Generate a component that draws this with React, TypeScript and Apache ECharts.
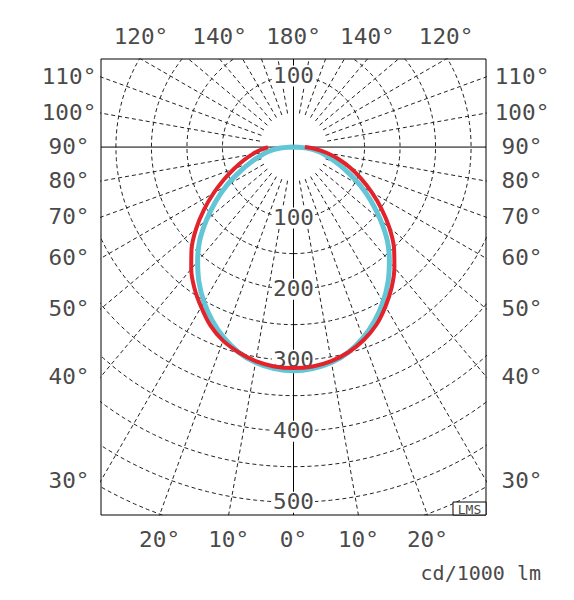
import React, { useEffect, useRef } from "react";
import * as echarts from "echarts";

// Gamma angles (degrees from nadir) at which intensities were read
const angles = [0, 5, 10, 15, 20, 25, 30, 35, 40, 45, 50, 55, 60, 65, 70, 75, 80, 85, 90];
// C0 plane (right half, red)
const c0 = [311, 310, 306, 299, 289, 276, 259, 241, 221, 200, 176, 151, 127, 105, 85, 66, 48, 31, 16];
// C180 plane (left half, red)
const c180 = [311, 310, 306, 299, 290, 277, 260, 243, 224, 203, 179, 154, 130, 108, 89, 73, 59, 47, 36];
// C90 / C270 planes (cyan)
const c90 = [315, 313, 308, 299, 286, 270, 252, 232, 210, 187, 160, 134, 109, 85, 65, 49, 36, 22, 0];
const c270 = [315, 313, 308, 299, 286, 270, 252, 232, 210, 187, 160, 134, 109, 85, 65, 49, 36, 22, 0];

const ringValues = [100, 150, 200, 250, 300, 350, 400, 450, 500, 550];
const spokeAngles = [10, 20, 30, 40, 50, 60, 70, 80, 100, 110, 120, 130, 140, 150, 160, 170];
const lowerRadialLabels = [100, 200, 300, 400, 500];
const upperRadialLabels = [100];
const sideAngleLabels = [30, 40, 50, 60, 70, 80, 90, 100, 110];
const topAngleLabels = [120, 140, 180];
const bottomAngleLabels = [0, 10, 20];
const unitLabel = "cd/1000 lm";
const brandLabel = "LMS";

const XMAX = 271;
const YMAX = 124;
const YMIN = -518;
const SPOKE_START = 48;
const FONT = "DejaVu Sans Mono";
const TEXT_COLOR = "#4a4a4a";
const RED = "#e3232b";
const CYAN = "#62c6d6";

const rad = (d: number) => (d * Math.PI) / 180;

function curve(left: number[], right: number[]) {
  const pts: number[][] = [];
  for (let i = angles.length - 1; i >= 0; i--) {
    const a = rad(angles[i]);
    pts.push([-left[i] * Math.sin(a), -left[i] * Math.cos(a)]);
  }
  for (let i = 0; i < angles.length; i++) {
    const a = rad(angles[i]);
    pts.push([right[i] * Math.sin(a), -right[i] * Math.cos(a)]);
  }
  return pts;
}

type LabelItem = { x: number; y: number; text: string; dx: number; dy: number; bg?: boolean };

function buildAngleLabels(): LabelItem[] {
  const items: LabelItem[] = [];
  sideAngleLabels.forEach((t) => {
    const y = (-XMAX * Math.cos(rad(t))) / Math.sin(rad(t));
    items.push({ x: -XMAX, y, text: `${t}°`, dx: -32, dy: 0 });
    items.push({ x: XMAX, y, text: `${t}°`, dx: 36, dy: 0 });
  });
  topAngleLabels.forEach((t) => {
    const phi = 180 - t;
    const x = YMAX * Math.tan(rad(phi));
    if (phi === 0) items.push({ x: 0, y: YMAX, text: `${t}°`, dx: 0, dy: -22 });
    else {
      items.push({ x: -x, y: YMAX, text: `${t}°`, dx: 0, dy: -22 });
      items.push({ x, y: YMAX, text: `${t}°`, dx: 0, dy: -22 });
    }
  });
  bottomAngleLabels.forEach((t) => {
    const x = -YMIN * Math.tan(rad(t));
    if (t === 0) items.push({ x: 0, y: YMIN, text: `${t}°`, dx: 0, dy: 25 });
    else {
      items.push({ x: -x, y: YMIN, text: `${t}°`, dx: 0, dy: 25 });
      items.push({ x, y: YMIN, text: `${t}°`, dx: 0, dy: 25 });
    }
  });
  return items;
}

function buildRadialLabels(): LabelItem[] {
  const items: LabelItem[] = [];
  lowerRadialLabels.forEach((r) => items.push({ x: 0, y: -r, text: `${r}`, dx: 0, dy: 0, bg: true }));
  upperRadialLabels.forEach((r) => items.push({ x: 0, y: r, text: `${r}`, dx: 0, dy: 0, bg: true }));
  return items;
}

function labelSeries(labels: LabelItem[], z: number) {
  return {
    type: "custom",
    coordinateSystem: "cartesian2d",
    silent: true,
    clip: false,
    z,
    data: labels.map((l) => [l.x, l.y]),
    renderItem: (params: any, api: any) => {
      const l = labels[params.dataIndex];
      const p = api.coord([l.x, l.y]);
      return {
        type: "text",
        x: p[0] + l.dx,
        y: p[1] + l.dy,
        scaleX: 1.08,
        style: {
          text: l.text,
          fill: TEXT_COLOR,
          font: `21px '${FONT}'`,
          align: "center",
          verticalAlign: "middle",
          backgroundColor: l.bg ? "#fff" : undefined,
          padding: l.bg ? [0, 1] : undefined,
        },
      };
    },
  };
}

export default function App() {
  const ref = useRef<HTMLDivElement>(null);
  useEffect(() => {
    if (!ref.current) return;
    const chart = echarts.init(ref.current, undefined, { renderer: "svg" });
    const dash = { type: [4, 3] as any, color: "#222", width: 1 };

    const gridSeries: any[] = [];
    ringValues.forEach((r) => {
      const pts: number[][] = [];
      for (let d = 0; d <= 360; d += 2) pts.push([r * Math.sin(rad(d)), -r * Math.cos(rad(d))]);
      gridSeries.push({ type: "line", data: pts, showSymbol: false, silent: true, lineStyle: dash, z: 1, clip: true });
    });
    spokeAngles.forEach((t) => {
      [1, -1].forEach((s) => {
        const a = rad(t);
        gridSeries.push({
          type: "line",
          data: [
            [s * SPOKE_START * Math.sin(a), -SPOKE_START * Math.cos(a)],
            [s * 900 * Math.sin(a), -900 * Math.cos(a)],
          ],
          showSymbol: false,
          silent: true,
          lineStyle: dash,
          z: 1,
          clip: true,
        });
      });
    });
    const solid = { color: "#000", width: 1, type: "solid" };
    gridSeries.push({ type: "line", data: [[0, YMIN], [0, YMAX]], showSymbol: false, silent: true, lineStyle: solid, z: 2 });
    gridSeries.push({ type: "line", data: [[-XMAX, 0], [XMAX, 0]], showSymbol: false, silent: true, lineStyle: solid, z: 2 });

    chart.setOption({
      animation: false,
      grid: {
        left: 101,
        top: 59,
        width: 385,
        height: 456,
        show: true,
        borderColor: "#000",
        borderWidth: 1,
        backgroundColor: "#fff",
      },
      xAxis: { type: "value", min: -XMAX, max: XMAX, show: false },
      yAxis: { type: "value", min: YMIN, max: YMAX, show: false },
      series: [
        ...gridSeries,
        labelSeries(buildRadialLabels(), 3),
        {
          type: "line",
          name: "C90-C270",
          data: curve(c270, c90),
          showSymbol: false,
          smooth: 0.3,
          lineStyle: { color: CYAN, width: 5 },
          z: 5,
        },
        {
          type: "line",
          name: "C0-C180",
          data: curve(c180, c0),
          showSymbol: false,
          smooth: 0.3,
          lineStyle: { color: RED, width: 4 },
          z: 6,
        },
        labelSeries(buildAngleLabels(), 10),
      ],
      graphic: [
        {
          type: "rect",
          z: 100,
          shape: { x: 453, y: 502, width: 33, height: 13 },
          style: { fill: "#fff", stroke: "#000", lineWidth: 1 },
        },
        {
          type: "text",
          z: 101,
          style: {
            text: brandLabel,
            x: 469.5,
            y: 509,
            align: "center",
            verticalAlign: "middle",
            font: `13px '${FONT}'`,
            fill: TEXT_COLOR,
          },
        },
        {
          type: "text",
          z: 101,
          style: {
            text: unitLabel,
            x: 541,
            y: 573,
            align: "right",
            verticalAlign: "middle",
            font: `20px '${FONT}'`,
            fill: TEXT_COLOR,
          },
        },
      ],
    });
    return () => chart.dispose();
  }, []);
  return <div ref={ref} style={{ position: "fixed", left: 0, top: 0, width: 574, height: 600, background: "#fff" }} />;
}
